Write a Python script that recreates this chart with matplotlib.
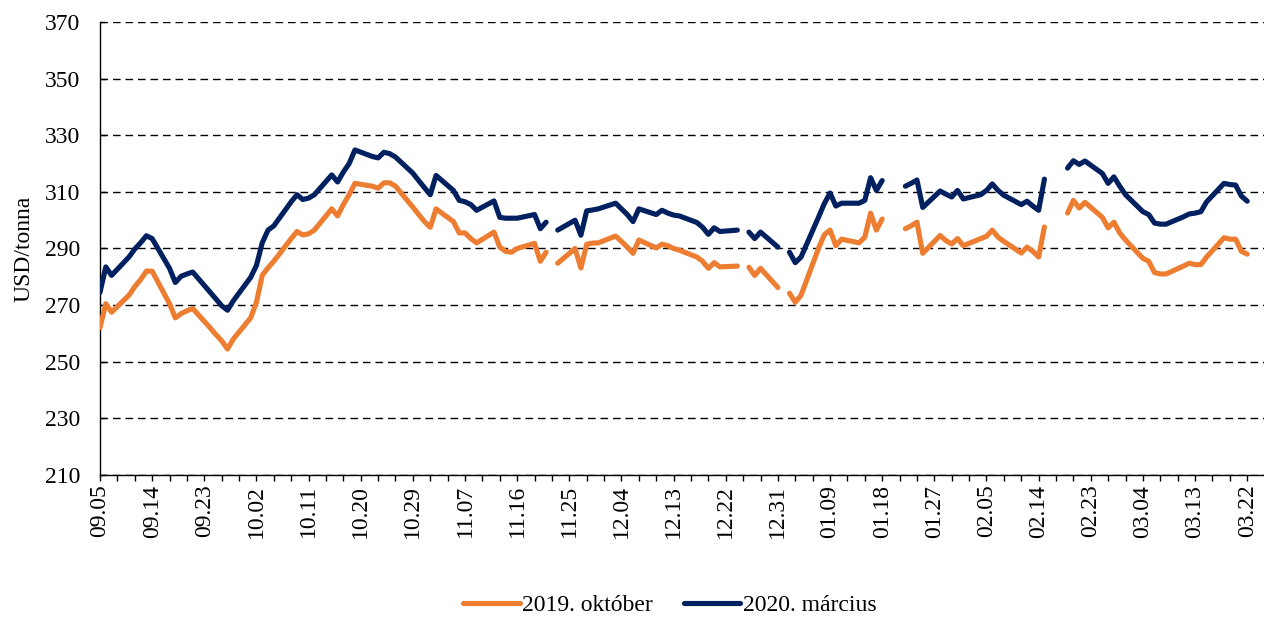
import matplotlib
matplotlib.use("Agg")
import matplotlib.pyplot as plt
import matplotlib.dates as mdates
import numpy as np
import pandas as pd

# trading days 2018.09.05 - 2019.03.22, None = exchange holiday (gap in line)
days = pd.bdate_range("2018-09-05", "2019-03-22")

# 2019. október contract, USD/tonna, month by month
okt_sep = [262, 270.5, 267.5, 273.5, 276.5, 279, 282, 282, 270.5, 265.5, 267, 268, 268.8,
           262, 259.6, 257.4, 254.5, 258]
okt_oct = [265.5, 271, 280.5, 283.2, 285.5, 293.5, 296, 294.8, 295.2, 296.5, 304, 301.5, 305.5,
           309, 313, 312, 311.3, 313.2, 313.2, 312, 304.6, 302, 299.5]
okt_nov = [297.5, 304, 299.5, 295.5, 295.5, 293.5, 292, 295.8, 290.5, 289, 288.7, 290,
           291.8, 285.5, 288.7, None, 284.8, 290, 283.1, 291.5, 291.9, 292]
okt_dec = [294.4, 292.5, 290.5, 288.3, 293, 290.2, 291.5, 291, 290, 289.4, 287, 285.5,
           283, 285, 283.5, 283.8, None, 283.4, 280.5, 283, 276.2]
okt_jan = [None, 274.2, 271, 273.5, 290, 294.8, 296.5, 291, 293.3, 292, 294, 302.5, 296.5,
           300.4, None, 297, 298, 299.3, 288.3, 294.6, 292.8, 291.6, 293.5]
okt_feb = [291, 293.5, 294.3, 296.5, 294, 292.5, 288.4, 290.5, 289, 287, 297.6, None,
           302.5, 307, 304.3, 306.3, 301, 297.3, 299.3, 295.5]
okt_mar = [293, 286.5, 285.5, 281.5, 281, 281, 283.8, 284.8, 284.3, 284.3, 287, 293.8,
           293.3, 293.3, 289, 288]

# 2020. március contract
mar_sep = [274.5, 283.5, 280.5, 287, 289.8, 292, 294.5, 293.5, 283, 278, 280.2, 281, 281.7,
           274.6, 272.2, 269.8, 268.2, 271.5]
mar_oct = [279.8, 284, 292, 296.5, 298, 306.5, 309, 307.3, 307.8, 309, 316, 313.5, 317,
           320, 324.8, 322.5, 322, 324, 323.5, 322.3, 316.6, 314, 311.5]
mar_nov = [309, 315.8, 310.5, 307, 306.5, 305.5, 303.5, 306.8, 301, 300.7, 300.7, 300.7,
           302, 297, 299.3, None, 296.5, 300, 294.7, 303.3, 303.6, 304]
mar_dec = [306, 304, 302, 299.5, 304, 302, 303.5, 302.5, 301.8, 301.5, 299.2, 297.5,
           295, 297.3, 296, 296.5, None, 295.8, 293.5, 295.8, 290.5]
mar_jan = [None, 288.7, 285, 287, 301, 305.8, 309.6, 305, 306, 306, 307, 315, 310.5,
           314, None, 312, 313, 314.2, 304.5, 310.3, 309.2, 308.2, 310.5]
mar_feb = [307.5, 309, 310.5, 312.8, 310.5, 308.8, 305.5, 306.7, 305, 303.5, 314.5, None,
           318.4, 321, 319.7, 320.9, 316.5, 313, 315.3, 312]
mar_mar = [309, 303, 302, 299, 298.6, 298.6, 301.2, 302.2, 302.5, 303, 306.5, 313,
           312.6, 312.4, 308.5, 306.7]

okt = okt_sep + okt_oct + okt_nov + okt_dec + okt_jan + okt_feb + okt_mar
mar = mar_sep + mar_oct + mar_nov + mar_dec + mar_jan + mar_feb + mar_mar
okt = np.array([np.nan if v is None else v for v in okt], dtype=float)
mar = np.array([np.nan if v is None else v for v in mar], dtype=float)

labels = ["2019. október", "2020. március"]
colors = ["#ED7D31", "#002060"]

plt.rcParams["font.family"] = ["Liberation Serif", "DejaVu Serif"]
fs = 17

fig = plt.figure(figsize=(12.64, 6.19), dpi=100)
ax = fig.add_axes([100 / 1264, 1 - 475 / 619, 1164 / 1264, 453 / 619])

ax.plot(days, okt, color=colors[0], lw=3.7, solid_capstyle="round",
        solid_joinstyle="round", label=labels[0], zorder=3)
ax.plot(days, mar, color=colors[1], lw=3.7, solid_capstyle="round",
        solid_joinstyle="round", label=labels[1], zorder=3)

d0 = mdates.date2num(pd.Timestamp("2018-09-05"))
ax.set_xlim(d0, d0 + 200.9)
ax.set_ylim(210, 370)
ax.set_yticks(np.arange(210, 371, 20))
ax.set_xticks(np.arange(d0, d0 + 199, 9))
ax.set_xticks(np.arange(d0, d0 + 201, 3), minor=True)
ax.xaxis.set_major_formatter(mdates.DateFormatter("%m.%d"))

ax.tick_params(axis="x", which="both", direction="out", length=4, width=1,
               labelsize=fs, rotation=90, pad=3)
ax.tick_params(axis="y", direction="in", length=4, width=1, labelsize=fs, pad=14)

ax.yaxis.grid(True, color="black", lw=1.0, linestyle=(0, (5.5, 3.5)))
ax.set_axisbelow(True)
for s in ["top", "right"]:
    ax.spines[s].set_visible(False)
for s in ["left", "bottom"]:
    ax.spines[s].set_linewidth(1.0)

ax.set_ylabel("USD/tonna", fontsize=fs)
ax.yaxis.set_label_coords(-0.056, 0.5)

fig.legend(loc="center", bbox_to_anchor=(0.53, 1 - 605 / 619), ncol=2, frameon=False,
           fontsize=fs, handlelength=2.4, handletextpad=0.1, columnspacing=1.3)

fig.savefig("out.png", dpi=100)
